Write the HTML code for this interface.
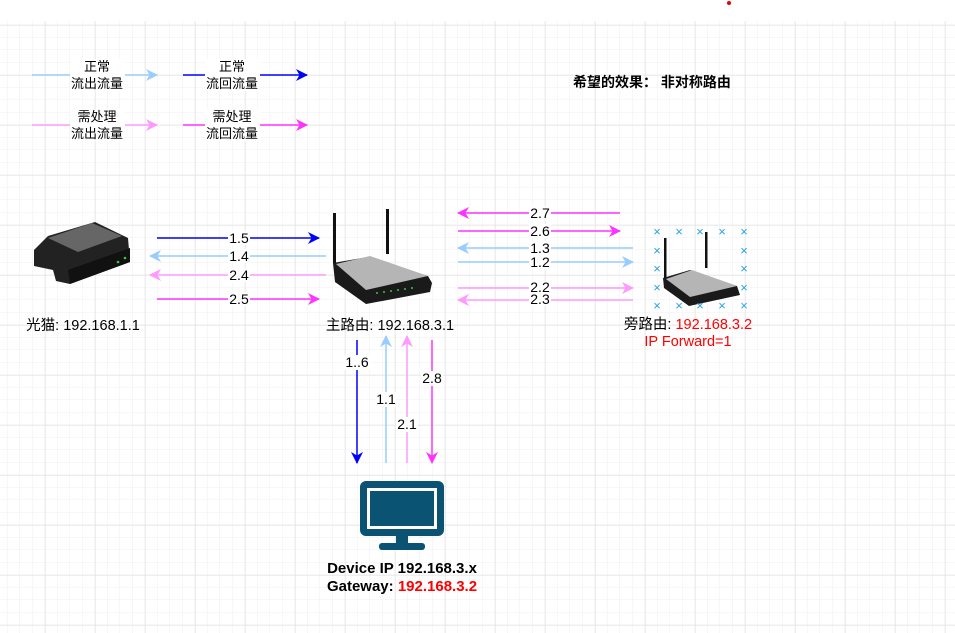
<!DOCTYPE html>
<html><head><meta charset="utf-8"><style>
html,body{margin:0;padding:0;background:#fff;}
svg{display:block;}
text{font-family:"Liberation Sans","Noto Sans CJK SC",sans-serif;font-size:13px;}
</style></head><body>
<svg width="955" height="633" viewBox="0 0 955 633" xmlns="http://www.w3.org/2000/svg">
<defs>
<pattern id="minor" x="-5" y="0" width="12.5" height="12.5" patternUnits="userSpaceOnUse"><path d="M12.5 0V12.5M0 12.5H12.5" stroke="#efefef" stroke-width="1" fill="none"/></pattern>
<pattern id="major" x="-5" y="25" width="50" height="50" patternUnits="userSpaceOnUse"><path d="M0 0V50M0 0H50" stroke="#dddddd" stroke-width="1" fill="none"/></pattern>
<marker id="aLB" markerWidth="12" markerHeight="12" refX="11" refY="6" orient="auto" markerUnits="userSpaceOnUse"><path d="M0,0 L12,6 L0,12 L3.5,6z" fill="#99ccff"/></marker>
<marker id="aB" markerWidth="12" markerHeight="12" refX="11" refY="6" orient="auto" markerUnits="userSpaceOnUse"><path d="M0,0 L12,6 L0,12 L3.5,6z" fill="#0000ff"/></marker>
<marker id="aLP" markerWidth="12" markerHeight="12" refX="11" refY="6" orient="auto" markerUnits="userSpaceOnUse"><path d="M0,0 L12,6 L0,12 L3.5,6z" fill="#ff99ff"/></marker>
<marker id="aM" markerWidth="12" markerHeight="12" refX="11" refY="6" orient="auto" markerUnits="userSpaceOnUse"><path d="M0,0 L12,6 L0,12 L3.5,6z" fill="#ff33ff"/></marker>
</defs>
<rect x="0" y="21" width="955" height="612" fill="url(#minor)"/>
<rect x="0" y="21" width="955" height="612" fill="url(#major)"/>
<circle cx="729" cy="3" r="2" fill="#e00"/>

<!-- legend -->
<g stroke-width="1.5" fill="none">
<line x1="32" y1="75" x2="157" y2="75" stroke="#99ccff" marker-end="url(#aLB)"/>
<line x1="183" y1="75" x2="307" y2="75" stroke="#0000ff" marker-end="url(#aB)"/>
<line x1="32" y1="125" x2="157" y2="125" stroke="#ff99ff" marker-end="url(#aLP)"/>
<line x1="183" y1="125" x2="307" y2="125" stroke="#ff33ff" marker-end="url(#aM)"/>
</g>
<g fill="#fff"><rect x="70" y="59" width="55" height="32"/><rect x="205" y="59" width="55" height="32"/><rect x="70" y="109" width="55" height="32"/><rect x="205" y="109" width="55" height="32"/></g>
<g text-anchor="middle">
<text x="97" y="71">正常</text><text x="97" y="88">流出流量</text>
<text x="232" y="71">正常</text><text x="232" y="88">流回流量</text>
<text x="97" y="121">需处理</text><text x="97" y="138">流出流量</text>
<text x="232" y="121">需处理</text><text x="232" y="138">流回流量</text>
</g>
<text x="573" y="87" font-weight="bold" style="font-size:14px">希望的效果： 非对称路由</text>

<g stroke-width="1.5" fill="none">
<line x1="157" y1="238" x2="319" y2="238" stroke="#0000ff" marker-end="url(#aB)"/>
<line x1="326" y1="256" x2="150" y2="256" stroke="#99ccff" marker-end="url(#aLB)"/>
<line x1="326" y1="275" x2="150" y2="275" stroke="#ff99ff" marker-end="url(#aLP)"/>
<line x1="157" y1="299" x2="319" y2="299" stroke="#ff33ff" marker-end="url(#aM)"/>
<line x1="620" y1="213" x2="458" y2="213" stroke="#ff33ff" marker-end="url(#aM)"/>
<line x1="458" y1="231" x2="620" y2="231" stroke="#ff33ff" marker-end="url(#aM)"/>
<line x1="633" y1="248" x2="458" y2="248" stroke="#99ccff" marker-end="url(#aLB)"/>
<line x1="458" y1="262" x2="633" y2="262" stroke="#99ccff" marker-end="url(#aLB)"/>
<line x1="458" y1="288" x2="633" y2="288" stroke="#ff99ff" marker-end="url(#aLP)"/>
<line x1="633" y1="300" x2="458" y2="300" stroke="#ff99ff" marker-end="url(#aLP)"/>
<line x1="357" y1="340" x2="357" y2="463" stroke="#0000ff" marker-end="url(#aB)"/>
<line x1="386" y1="463" x2="386" y2="336" stroke="#99ccff" marker-end="url(#aLB)"/>
<line x1="407" y1="463" x2="407" y2="336" stroke="#ff99ff" marker-end="url(#aLP)"/>
<line x1="432" y1="340" x2="432" y2="463" stroke="#ff33ff" marker-end="url(#aM)"/>
</g>
<g fill="#fff">
<rect x="228" y="231" width="22" height="14"/><rect x="228" y="249" width="22" height="14"/><rect x="228" y="268" width="22" height="14"/><rect x="228" y="292" width="22" height="14"/>
<rect x="529" y="206" width="22" height="14"/><rect x="529" y="224" width="22" height="14"/><rect x="529" y="241" width="22" height="14"/><rect x="529" y="255" width="22" height="14"/><rect x="529" y="281" width="22" height="12"/><rect x="529" y="293" width="22" height="13"/>
<rect x="344" y="355" width="26" height="15"/><rect x="375" y="392" width="22" height="15"/><rect x="396" y="417" width="22" height="15"/><rect x="421" y="371" width="22" height="15"/>
</g>
<g text-anchor="middle" style="font-size:14px">
<text x="239" y="243" style="font-size:14px">1.5</text><text x="239" y="261" style="font-size:14px">1.4</text><text x="239" y="280" style="font-size:14px">2.4</text><text x="239" y="304" style="font-size:14px">2.5</text>
<text x="540" y="218" style="font-size:14px">2.7</text><text x="540" y="236" style="font-size:14px">2.6</text><text x="540" y="253" style="font-size:14px">1.3</text><text x="540" y="267" style="font-size:14px">1.2</text><text x="540" y="292" style="font-size:14px">2.2</text><text x="540" y="304" style="font-size:14px">2.3</text>
<text x="357" y="367" style="font-size:14px">1..6</text><text x="386" y="404" style="font-size:14px">1.1</text><text x="407" y="429" style="font-size:14px">2.1</text><text x="432" y="383" style="font-size:14px">2.8</text>
</g>

<!-- modem -->
<g>
<path d="M34 250 L48 236 L95 222 L128 238 L130 262 L70 284 L56 281 L53 270 L34 266 Z" fill="#222"/>
<path d="M48 238 L92 223 L122 236 L78 252 Z" fill="#666"/>
<path d="M70 284 L130 262 L130 248 L68 270 Z" fill="#111"/>
<circle cx="118" cy="262" r="1.3" fill="#3c3"/><circle cx="125" cy="258" r="1.3" fill="#3c3"/>
</g>
<!-- main router -->
<g>
<rect x="333" y="213" width="3" height="50" fill="#111"/>
<rect x="386" y="209" width="3" height="45" fill="#111"/>
<path d="M333 263 L368 257 L428 276 L432 283 L430 292 L366 304 L335 282 Z" fill="#1a1a1a"/>
<path d="M336 264 L370 256 L428 276 L366 290 Z" fill="#b5b5b5"/>
<g fill="#3c3"><circle cx="377" cy="293" r="1"/><circle cx="384" cy="292" r="1"/><circle cx="391" cy="291" r="1"/><circle cx="398" cy="290" r="1"/><circle cx="405" cy="289" r="1"/><circle cx="412" cy="288" r="1"/></g>
</g>
<!-- side router -->
<g>
<rect x="664" y="238" width="2.5" height="40" fill="#111"/>
<rect x="705" y="232" width="2.5" height="36" fill="#111"/>
<path d="M663 278 L690 270 L737 286 L740 295 L689 306 L664 288 Z" fill="#1a1a1a"/>
<path d="M666 279 L692 270 L737 286 L690 297 Z" fill="#b5b5b5"/>
</g>
<g fill="#29a3e8" font-size="11" text-anchor="middle">
<text x="657" y="236">×</text><text x="679" y="236">×</text><text x="700" y="236">×</text><text x="722" y="236">×</text><text x="744" y="236">×</text>
<text x="657" y="255">×</text><text x="744" y="255">×</text>
<text x="657" y="273">×</text><text x="744" y="273">×</text>
<text x="657" y="292">×</text><text x="744" y="292">×</text>
<text x="657" y="310">×</text><text x="679" y="310">×</text><text x="700" y="310">×</text><text x="722" y="310">×</text><text x="744" y="310">×</text>
</g>

<g text-anchor="middle">
<text x="83" y="330" style="font-size:14.5px">光猫: 192.168.1.1</text>
<text x="390" y="330" style="font-size:14.5px">主路由: 192.168.3.1</text>
<text x="688" y="329" style="font-size:14.5px">旁路由: <tspan fill="#ff0000">192.168.3.2</tspan></text>
<text x="688" y="346" style="font-size:14.5px" fill="#ff0000">IP Forward=1</text>
</g>

<!-- monitor -->
<g fill="#0a5373">
<rect x="360" y="481" width="84" height="55" rx="6"/>
<rect x="396" y="534" width="12" height="10"/>
<rect x="379" y="543" width="46" height="7" rx="3"/>
</g>
<rect x="367" y="488" width="70" height="41" fill="#fff"/>
<rect x="370" y="491" width="64" height="35" fill="#0a5373"/>
<g text-anchor="middle" font-weight="bold">
<text x="402" y="573" style="font-size:15px">Device IP 192.168.3.x</text>
<text x="402" y="591" style="font-size:15px">Gateway: <tspan fill="#ff0000">192.168.3.2</tspan></text>
</g>
</svg>
</body></html>
